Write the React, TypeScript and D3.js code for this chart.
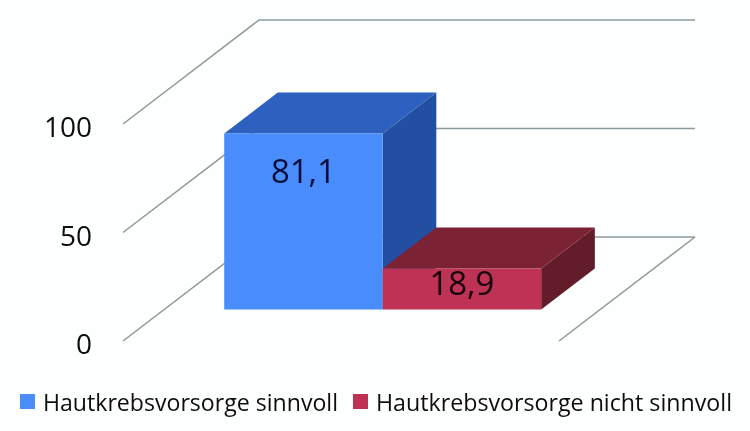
import React from "react";
import * as d3 from "d3";

const seriesNames = ["Hautkrebsvorsorge sinnvoll", "Hautkrebsvorsorge nicht sinnvoll"];
const seriesValues = [81.1, 18.9];
const valueLabels = ["81,1", "18,9"];
const yTicks = [0, 50, 100];
const frontColors = ["#4a8cfb", "#bd3354"];
const topColors = ["#2d60bf", "#7c2336"];
const sideColors = ["#204fa2", "#631b2b"];

const FONT = "'Open Sans', sans-serif";
const y = d3.scaleLinear().domain([0, 100]).range([341, 124]);
const xFloor = d3.scaleLinear().domain([0, 1]).range([123, 559]);
const depthX = d3.scaleLinear().domain([0, 1]).range([0, 136]);
const depthY = d3.scaleLinear().domain([0, 1]).range([0, -104]);
const xBand = d3.scaleBand<number>().domain([0, 1]).range([60, 377]);
const barDepthFront = 0.303;
const barDepthBack = 0.697;
const labelDrop = [49, 27];

const line = d3.line();
// project (floor x in px relative to plot, value, depth) to the screen
const proj = (px: number, v: number, dep: number): [number, number] => [
  123 + px + depthX(dep),
  y(v) + depthY(dep),
];
const poly = (pts: [number, number][]) => line(pts)! + "Z";

export default function App() {
  const w = xBand.bandwidth();
  return (
    <svg width={750} height={431} style={{ position: "absolute", left: 0, top: 0, background: "#fdfefe" }}>
      <defs>
        <filter id="soft" x="-5%" y="-5%" width="110%" height="110%">
          <feGaussianBlur stdDeviation="0.45" />
        </filter>
      </defs>
      <g filter="url(#soft)">
        {yTicks.map((t) => (
          <path
            key={t}
            d={line([
              [xFloor(0), y(t)],
              [xFloor(0) + depthX(1), y(t) + depthY(1)],
              [xFloor(1) + depthX(1), y(t) + depthY(1)],
            ])!}
            fill="none"
            stroke="#8b9a9c"
            strokeWidth={1.5}
          />
        ))}
        <path
          d={line([
            [xFloor(1) + depthX(1), y(0) + depthY(1)],
            [xFloor(1), y(0)],
          ])!}
          fill="none"
          stroke="#8b9a9c"
          strokeWidth={1.5}
        />
        {seriesValues.map((v, i) => {
          const x0 = xBand(i)!;
          const x1 = x0 + w;
          return (
            <g key={i}>
              <path
                d={poly([proj(x1, 0, barDepthFront), proj(x1, v, barDepthFront), proj(x1, v, barDepthBack), proj(x1, 0, barDepthBack)])}
                fill={sideColors[i]}
              />
              <path
                d={poly([proj(x0, v, barDepthFront), proj(x1, v, barDepthFront), proj(x1, v, barDepthBack), proj(x0, v, barDepthBack)])}
                fill={topColors[i]}
              />
              <path
                d={poly([proj(x0, 0, barDepthFront), proj(x1, 0, barDepthFront), proj(x1, v, barDepthFront), proj(x0, v, barDepthFront)])}
                fill={frontColors[i]}
              />
            </g>
          );
        })}
        {seriesValues.map((v, i) => {
          const [cx, top] = proj(xBand(i)! + w / 2, v, barDepthFront);
          return (
            <text
              key={i}
              x={cx}
              y={top + labelDrop[i]}
              textAnchor="middle"
              fontFamily={FONT}
              fontSize={33}
              textLength={65}
              lengthAdjust="spacingAndGlyphs"
              fill={i === 0 ? "#06103a" : "#120208"}
            >
              {valueLabels[i]}
            </text>
          );
        })}
        {yTicks.map((t) => (
          <text
            key={t}
            x={92}
            y={y(t) + 13}
            textAnchor="end"
            fontFamily={FONT}
            fontSize={28}
            fill="#111"
          >
            {t}
          </text>
        ))}
        {seriesNames.map((name, i) => {
          const sx = [20, 353][i];
          const tx = [43, 376][i];
          const tw = [295, 356][i];
          return (
            <g key={name}>
              <rect x={sx} y={394} width={15} height={15} fill={frontColors[i]} />
              <text
                x={tx}
                y={411}
                fontFamily={FONT}
                fontSize={24}
                textLength={tw}
                lengthAdjust="spacingAndGlyphs"
                fill="#111"
              >
                {name}
              </text>
            </g>
          );
        })}
      </g>
    </svg>
  );
}
